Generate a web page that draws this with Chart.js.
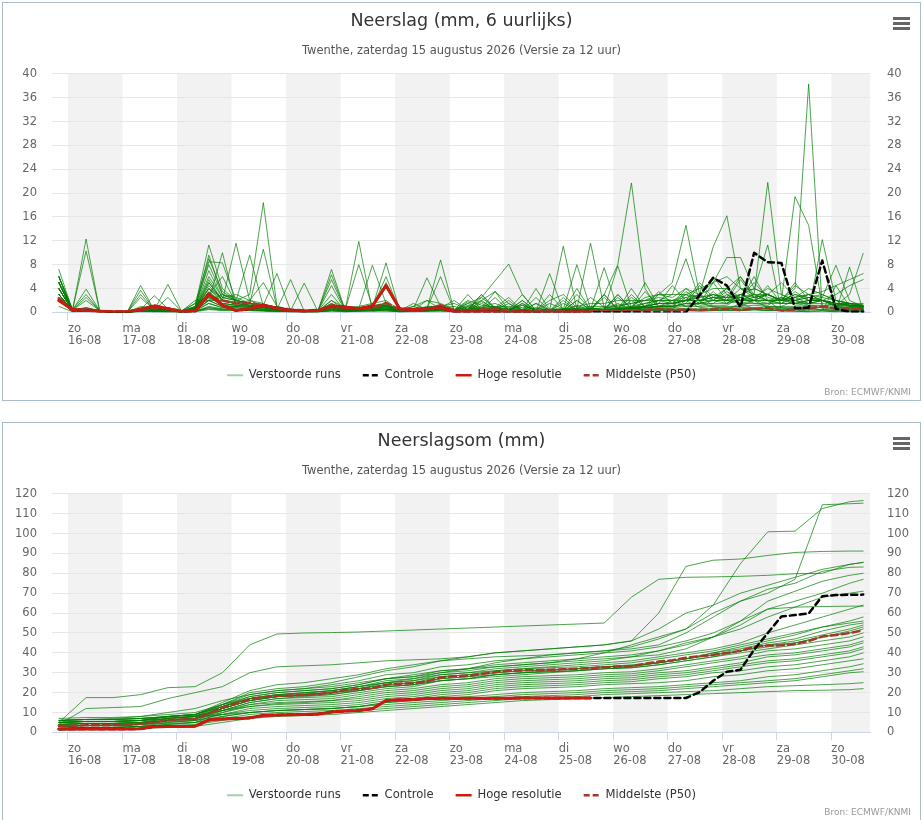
<!DOCTYPE html>
<html lang="nl">
<head>
<meta charset="utf-8">
<title>Neerslag Twenthe</title>
<script src="https://cdn.jsdelivr.net/npm/chart.js@4.4.1/dist/chart.umd.min.js"></script>
<style>
    body { margin: 0; background: #fff; }
    .box { position: absolute; left: 2px; width: 917px; height: 397px; border: 1px solid #aabdcc; background: #fff; }
    #box1 { top: 2px; }
    #box2 { top: 422px; }
    canvas { display: block; }
</style>
</head>
<body>
<div class="box" id="box1"><canvas id="rainChart" width="917" height="397"></canvas></div>
<div class="box" id="box2"><canvas id="sumChart" width="917" height="397"></canvas></div>
<script>
/* ==========================================
   Data (uren vanaf zo 16-08 00:00)
   ========================================== */

const hours = [-4, 2, 8, 14, 20, 26, 32, 38, 44, 50, 56, 62, 68, 74, 80, 86, 92, 98, 104, 110,
    116, 122, 128, 134, 140, 146, 152, 158, 164, 170, 176, 182, 188, 194, 200, 206, 212, 218, 224, 230,
    236, 242, 248, 254, 260, 266, 272, 278, 284, 290, 296, 302, 308, 314, 320, 326, 332, 338, 344, 350];

const sumHours = [-4, 8, 20, 32, 44, 56, 68, 80, 92, 104, 116, 128, 140, 152, 164, 176, 188, 200, 212, 224,
    236, 248, 260, 272, 284, 296, 308, 320, 332, 344, 350];

const dayNames = ["zo", "ma", "di", "wo", "do", "vr", "za", "zo", "ma", "di", "wo", "do", "vr", "za", "zo"];
const dayDates = ["16-08", "17-08", "18-08", "19-08", "20-08", "21-08", "22-08", "23-08",
    "24-08", "25-08", "26-08", "27-08", "28-08", "29-08", "30-08"];

const subtitleText = "Twenthe, zaterdag 15 augustus 2026 (Versie za 12 uur)";

// neerslag per 6 uur
const hiresRain = [2.0, .5, .3, .2, .1, .1, .5, 1.1, .6, .1, .2, 3.1, 1.2, .3, .6, 1.2, .7, .3, .2, .3,
    1.1, .9, .6, 1.1, 4.5, .6, .5, .6, .8, .1, .1, .1, .1, 0, .1, 0, 0, 0, .1, 0];

const controlRain = [2.0, .5, .3, .2, .1, .1, .5, 1.1, .6, .1, .2, 3.1, 1.2, .3, .6, 1.2, .7, .3, .2, .3,
    1.1, .9, .6, 1.1, 4.5, .6, .5, .6, .8, .1, .1, .1, .1, 0, .1, 0, 0, 0, .1, 0,
    0, 0, 0, 0, 0, 0, 0, 2.9, 5.8, 4.5, .9, 10.0, 8.4, 8.3, .7, .8, 8.7, .6, .1, .1];

const medianRain = [2.4, .3, .6, .1, 0, .1, .4, .8, .7, .2, .3, 2.8, 2.0, 1.5, 1.6, 1.2, .8, .5, .3, .4,
    .9, .8, .6, .7, 1.6, .5, .3, .6, 1.2, .4, .3, .5, .6, .3, .3, .2, .3, .2, .2, .3,
    .3, .2, .3, .4, .6, .4, .5, .4, .5, .6, .4, .6, .7, .3, .5, .7, 1.0, .6, .5, .6];

const memberRain = [
    [5, .3,12.3,.2,0, 0,1,.8,.5, .2,.6,5,2, 11.6,2,5,1, .5,.3,.2,.5, .3,.5,.4,.6, .2,.3,.5,.8, .2,.3,.5,.6, .4,.3,.2,.5, .3,.4,.6,3, 8,21.7,4,.5, .2,.3,.2,.3, .4,.3,.5,.3, .4,.6,1,.3, 4.5,1,.8],
    [4, .4,10.3,.3,0, 0,.5,.4,.3, .1,1.5,2,3, 2,9.6,1,.5, .2,.2,.1,.3, .4,11.9,.2,.5, .2,.3,.2,.5, .3,.4,.5,.6, .3,.2,.3,.5, .2,.4,.3,.5, .5,.7,.8,3, 5,14.6,3,1, .5,1.5,.6,1, .8,.5,.2,.3, .1,.1,.1],
    [6, .5,.6,.3,0, 0,.7,.5,.8, .2,2,2,2, 1.5,1,1,.5, .5,.3,.2,1, .5,.5,.6,1, .3,.4,.5,1, .3,.5,.5,.6, .8,.5,.3,.5, .6,1,1.5,1.5, 2,2,2,2, 2,2,3,11, 16.2,4,3.8,11.3, .2,.2,.1,12.2, 2,1.5,.6],
    [3, .3,.5,.2,0, 0,.4,.3,.3, .1,.5,2,10, 1,1.5,1,.5, .3,.2,.2,.5, .3,.6,.8,1, .4,.5,.6,1.2, .3,.5,.8,1, 1,.8,.6,.5, .4,.3,.5,.5, .5,.8,1.5,2, 2,3,2.5,3, 2,1.5,2,3, 2,4,38.3,.5, .2,.2,.1],
    [4, .3,.5,.2,0, 0,4.5,.4,.4, .2,.8,4,2.5, 3,2,1.5,.5, .3,.3,.2,2, .8,1,1.5,2, .4,1,2,1.5, .5,.8,1,1.5, .6,.5,.3,.4, .5,.6,.8,.5, .6,1,2.5,3, 3,9,2,2, 4,2,3,3, 2,3,2,2, 1.2,3,9.9],
    [5, .4,3.9,.3,0, 0,.6,.5,.5, .2,1,11.3,4, 2,3,18.4,1, .4,.3,.3,1.5, .5,.8,1,1.2, .3,.4,1,1, .3,.4,.6,.8, .4,.3,.3,.4, .5,.6,.5,.4, .6,.8,1,2, 3,3,4,5, 9.2,9.2,4,3, 2,2.5,3,3.5, 4.5,5.5,6.5],
    [3, .3,.8,.2,0, 0,.5,2.8,.6, .2,.7,9.6,3, 2.5,1.5,1,.5, .3,.3,.2,.8, .4,.6,1,1.5, .3,.5,.8,1, .3,.4,.6,.5, .3,.2,.3,.3, .4,.3,.4,.5, .5,.6,.8,1, 1.5,2,3,4, 4,6,3,21.8, 3,2,1.5,2, 1,.8,.6],
    [6, .5,3,.3,0, 0,.8,.6,.5, .3,1.5,9,3.5, 2,1.5,10.6,.8, .5,.4,.3,1, .5,.8,1.2,1.5, .4,.6,.8,1.2, .4,.6,.8,1, .5,.4,.3,.5, .6,.5,.6,.8, .8,1,1.5,2, 1.5,2,2.5,6, 3,2,2.5,3, 2,19.4,14.6,1, 1.5,1.2,1],
    [5, .4,.8,.3,0, 0,.5,.6,.8, .2,1,3,6, 1.5,2,1,.8, .4,.3,.3,.8, .5,.6,1,1.5, .3,.6,.8,1, .4,1.5,2.5,.8, .5,1.2,.4,2, 3,.8,1,1, 1.2,1.5,2,2.5, 2,2.5,3,2, 2,3,2.5,4, 3,2,2.5,2, 1,.6,.5],
    [4, .3,.6,.2,0, 0,3.7,.4,.5, .2,.8,8.5,8.3, 2,1.5,1,.5, .3,.2,.2,.8, .4,.6,7.9,1.5, .3,.5,.6,1.2, .3,1,2,3.5, 1.5,.3,.8,.4, .5,.6,11.6,.8, .6,2.5,1,1.5, 1.5,4,2,3, 2.5,3,4,3, 2,1.5,2,2.5, 7.9,2,1],
    [5, .4,2.5,.3,0, 0,.6,.5,.5, .2,.9,8,3, 2,1.5,1.2,6.5, .3,.2,.3,.9, .5,.7,1,1.3, .3,.5,5.8,1, .4,2,1.2,.8, .5,3,.3,1.5, .6,.5,2.5,.9, 1,1.5,2,3, 2.5,4,3,5, 6,4,3,2, .3,.2,.1,.2, .1,7.6,.3],
    [3, .3,.5,.2,0, 0,.5,.4,4.7, .2,.6,7,2.5, 2,1.5,1,.5, .3,.2,.2,7.2, .4,.5,.8,1.2, .3,.5,.6,1, .4,.5,3,.8, 2.5,.3,1.5,.4, 11.1,.5,.6,.5, .5,.6,.8,1, 1.2,3.5,2,2.5, 4,2.5,5,2.5, 2,3,2.5,3, 2,1.5,1.2],
    [6, .4,.5,.3,0, 0,3,.4,.5, .2,.7,6,2.5, 2,1.5,1,.5, .3,.3,.2,.9, .4,8,1,1.2, .3,.4,.6,1, 1.5,.5,.6,3.5, .4,2,.3,.4, .5,8,.6,.5, .6,.8,1,1.5, 1.5,2,5,2.5, 2.5,2.5,3,2, 2,4.5,3,2, 1.5,1,.8],
    [2, .3,.5,.2,0, 0,.4,.4,2.5, .2,.6,5.5,2, 1.8,1.2,1,.5, 5.5,.2,.2,.8, .4,.6,.8,8.3, .3,.5,.6,1, .3,3,.5,.6, .4,.3,4,.4, .5,.4,.6,.5, 2.5,.8,1,3.5, 1.5,2,2.5,3, 2.5,6,2.5,3, 2,2.5,4,3, 2,1.5,1],
    [4, .3,.5,.2,0, 0,2.5,.4,.4, .2,.5,5,2, 1.5,1.2,1,.5, .3,4.9,.2,.8, .4,.5,.8,6, .3,.5,.6,1, .3,.4,1.8,.6, 2,.3,.2,3, .5,.4,.5,7.5, .6,.8,1,1.5, 4.5,2,2,2.5, 2,2.5,2,3, 5,2.5,3,2.5, 2,1.5,1.5],
    [5, .4,2,.3,0, 0,.5,.4,.4, .2,.5,4,2, 1.5,1.2,.8,.5, .3,.2,.2,6.3, .4,.5,.8,1, .3,.4,.6,.8, 2,.4,.5,.6, .3,1.5,.2,.4, .4,3,.5,.5, 7.8,.8,1,1.5, 1.5,2,2,2.5, 2,5.5,2.5,3, 2,2,2.5,2, 3,4.5,5.5],
    [3, .3,.5,.2,0, 0,.4,.4,.4, .2,.6,4.5,2, 1.5,1.2,.8,.5, .3,.2,.2,5.5, .4,.5,.8,1, .3,.4,.6,8.8, .3,.4,3,.5, .3,.3,2.5,.3, .3,4,.4,.5, .5,.6,.8,1, 1,3,1.5,5, 2,2,6,2, 2.5,2,3,2, 1.5,1.5,1.2],
    [7.2, .4,.6,.3,0, 0,.5,.4,.5, .2,.5,3.5,1.5, 1.2,1,.8,.5, .3,.2,.2,4.5, .3,.5,.7,1, .3,.4,.6,6, .3,1.8,.5,.5, .3,2,.2,.3, 2.5,.4,.4,3, .5,4,.8,1, 1,1.5,1.5,2, 1.5,2,2,2, 2,5,2,2, 1.5,1.5,1.2],
    [2, .2,.4,.2,0, 0,.3,.3,.3, .1,.4,4,1.5, 1.2,1,.8,.4, .3,.2,.2,.8, .3,.5,.6,5, .3,.4,.5,.8, 1,.4,.5,2.5, .3,.3,1.5,.3, .3,.4,.4,.5, 3,.6,.8,1, 1,1.5,4.5,2, 2,4,2.5,2, 1.5,1.5,2,2, 1.5,1.2,1],
    [5, .3,.5,.2,0, 0,.4,.3,.3, .1,.4,2.5,1.5, 1.2,1,.8,.4, .3,.2,.2,3, .3,.5,.6,1, .3,.4,.5,.8, .3,1.5,.5,.5, .3,.3,.2,6.5, .3,2,.4,3, .5,.6,5,1, 1,1.5,1.5,2, 3.5,2,2,2, 1.5,3.5,2,2, 1.5,1.2,1],
    [4, .3,.5,.2,0, 0,.4,.3,.3, .1,.4,2.5,1.2, 1,.8,.6,.4, .3,.2,.2,2, .3,.4,.6,.8, .3,.4,.5,.6, .3,.5,2.5,5.3, 8.1,3,.3,.2, .3,.4,.4,.5, .5,3,.8,1, 1,1.2,1.5,1.5, 1.5,3,2,4.5, 1.5,1.5,2,2, 1.5,1.2,1],
    [6, .4,.5,.3,0, 0,.4,.3,.3, .1,.3,2,1, 1,.8,.6,.4, .3,.2,.2,1.5, .3,.4,.5,.8, .3,1.5,.5,.6, .3,.4,2,.5, .3,1.2,.2,.3, 1.5,.4,.4,2.5, .5,.6,3.5,1, 2,1,1.5,3.5, 1.5,3,2,1.5, 2.5,1.5,1.5,2, 1.5,1.2,1],
    [3, .3,.4,.2,0, 0,.3,.3,.3, .1,.3,2,1, 1,.8,.5,.3, .2,.2,.2,1.2, .3,.4,.5,.7, .3,.4,2,.6, .3,1.2,.4,.5, 1.5,.3,.2,.3, .3,2,.4,.4, 3,.6,.8,1, 1,2.5,1.2,1.5, 3,1.5,1.5,1.5, 1.5,2.5,1.5,2, 1.2,1.2,1],
    [5, .3,.4,.2,0, 0,.3,.3,.2, .1,.3,1.5,.8, .8,.6,.5,.3, .2,.2,.2,1, .3,.3,.5,.6, .2,.3,.4,.5, .2,.3,1.5,.4, .3,.2,.2,.3, 2,.3,.3,.4, .4,2,.6,.8, .8,1,1,1.2, 1.2,2.5,1.5,1.2, 2.5,1.2,1.5,1.5, 1.2,1,1],
    [2, .2,.3,.2,0, 0,.3,.2,.2, .1,.3,1.5,.8, .8,.5,.4,.3, .2,.2,.2,.8, .2,.3,.4,.6, .2,1,.4,.5, .2,.3,.3,.4, .3,1.5,.2,.3, .3,.3,.3,.4, 1.5,.4,.5,.6, .6,2,.8,1, 1,1,1.2,1, 1,2,1.2,1.2, 1,.8,.8],
    [4, .3,.3,.2,0, 0,.2,.2,.2, .1,.2,1,.6, .6,.5,.4,.2, .2,.1,.1,.6, .2,.3,.4,.5, .2,.3,.3,.4, .2,1,.3,.3, .2,.2,.2,.2, .2,1.2,.3,.3, .3,.4,.5,.6, .6,.6,1.8,.8, .8,1,2,.8, 1,1,1.2,1, .8,.8,.6],
    [6, .3,.3,.2,0, 0,.2,.2,.2, .1,.2,.8,.5, .5,.4,.3,.2, .2,.1,.1,.5, .2,.3,.3,.4, .2,.2,.3,.4, .2,.2,.3,.3, .2,.2,.2,.2, .2,.2,.3,.3, .3,.3,.4,.5, .5,.5,.6,.6, .6,.8,.8,.6, .8,.8,1,.8, .6,.6,.5],
    [3, .2,.3,.1,0, 0,.2,.2,.1, .1,.2,.8,.5, .5,.4,.3,.2, .1,.1,.1,.4, .2,.2,.3,.4, .1,.2,.3,.3, .2,.2,.2,.3, .2,.1,.1,.2, .2,.2,.2,.3, .3,.3,.4,.4, .4,.5,.5,.6, .6,.6,.7,.6, .6,.8,.8,.8, .6,.5,.5],
    [2, .2,.2,.1,0, 0,.2,.1,.1, .1,.2,.6,.4, .4,.3,.3,.2, .1,.1,.1,.3, .1,.2,.3,.3, .1,.2,.2,.3, .1,.2,.2,.2, .1,.1,.1,.2, .2,.2,.2,.2, .2,.3,.3,.3, .3,.4,.4,.4, .4,.5,.5,.4, .4,.5,.5,.5, .4,.4,.3],
    [1, .1,.2,.1,0, 0,.1,.1,.1, 0,.1,.5,.3, .3,.3,.2,.1, .1,.1,.1,.2, .1,.2,.2,.2, .1,.1,.2,.2, .1,.1,.2,.2, .1,.1,.1,.1, .1,.1,.2,.2, .2,.2,.2,.3, .3,.3,.3,.3, .3,.3,.4,.3, .3,.4,.4,.4, .3,.3,.3]
];

// neerslagsom
const hiresSum = [1.7, 1.7, 1.7, 1.7, 1.7, 1.7, 1.8, 2.9, 3.0, 3.0, 3.1, 6.2, 6.8, 7.0, 7.3, 8.5, 8.8, 8.9, 9.0, 9.2,
    10.3, 10.7, 11.0, 11.9, 16.0, 16.4, 16.6, 17.0, 17.2, 17.2, 17.2, 17.2, 17.2, 17.2, 17.3, 17.3, 17.3, 17.3, 17.3, 17.3];

const controlSum = [1.7, 1.7, 1.7, 1.7, 1.7, 1.7, 1.8, 2.9, 3.0, 3.0, 3.1, 6.2, 6.8, 7.0, 7.3, 8.5, 8.8, 8.9, 9.0, 9.2,
    10.3, 10.7, 11.0, 11.9, 16.0, 16.4, 16.6, 17.0, 17.2, 17.2, 17.2, 17.2, 17.2, 17.2, 17.3, 17.3, 17.3, 17.3, 17.3, 17.3,
    17.3, 17.3, 17.3, 17.3, 17.3, 17.3, 17.3, 20.2, 26.0, 30.5, 31.5, 41.6, 50.0, 58.3, 59.0, 59.8, 68.5, 69.1, 69.2, 69.3];

const medianSum = [3.4, 3.4, 3.6, 3.6, 3.6, 3.8, 4.3, 5.0, 6.2, 6.5, 6.8, 9.5, 12.5, 14.5, 16.8, 17.8, 18.3, 18.5, 18.8, 19.3,
    20.0, 21.3, 21.8, 22.2, 24.0, 24.5, 24.8, 25.6, 27.6, 28.3, 28.5, 29.4, 30.3, 31.0, 31.2, 31.3, 31.5, 31.7, 32.0, 32.4,
    32.8, 33.1, 33.3, 34.5, 35.6, 36.3, 37.6, 38.3, 39.0, 40.0, 41.0, 43.0, 43.7, 43.8, 44.5, 46.0, 48.2, 49.0, 50.0, 51.3];

const memberSum = [
    [5, 17.5, 17.5, 19, 22.5, 23, 30, 44, 49.5, 50, 50.2, 50.5, 51, 51.5, 52, 52.5, 53, 53.5, 54, 54.5, 55, 68, 77, 78, 78.2, 78.5, 79, 79.8, 80, 84.5, 85.5],
    [4, 12, 12.5, 13, 17, 20, 23, 30, 33, 33.5, 34, 35, 36, 36.5, 37, 38, 40, 41, 42, 43, 44, 46, 60, 83.5, 86.6, 87.2, 89, 90.5, 91, 91.2, 91.2],
    [6, 6.5, 7, 8, 10, 12, 16, 19, 21, 22, 23, 25, 27, 28, 30, 31, 33, 34, 35, 37, 40, 44, 48, 52, 64, 84.9, 100.9, 101.2, 112.6, 116, 116.6],
    [3, 3.5, 4, 4.5, 6, 7, 12, 16, 18, 19, 20, 22, 25, 27, 30, 32, 35, 37, 39, 40, 41, 43, 47, 52, 60, 66, 70, 77, 114.5, 115, 115.3],
    [4, 4.5, 4.5, 5, 7, 8, 14, 20, 22, 23, 25, 28, 31, 33, 36, 38, 40, 41, 42, 43, 44, 46, 52, 60, 64, 70, 74, 78, 82, 84.5, 85.5],
    [5, 5.5, 5.5, 6, 8, 9, 15, 21, 24, 25, 27, 29, 32, 34, 36, 37, 38, 38.5, 39, 40, 41, 42, 44, 50, 58, 66, 72, 75, 81, 83, 83.2],
    [3, 3.5, 3.5, 4, 6, 7, 13, 18, 20, 21, 22, 24, 27, 29, 31, 32, 33, 34, 35, 36, 37, 38, 39, 42, 48, 56, 66, 71, 76, 79, 80],
    [6, 6.5, 6.5, 7, 8, 9, 14, 19, 21, 22, 24, 26, 29, 30, 33, 34, 36, 37, 38, 39, 40, 41, 43, 46, 50, 56, 62, 66, 70, 75, 77],
    [5, 5.5, 5.5, 6, 8, 9, 13, 17, 19, 20, 21, 23, 26, 27, 29, 30, 32, 33, 34, 35, 36, 38, 41, 45, 48, 52, 58, 63, 68, 70, 71],
    [4, 4.5, 4.5, 5, 7, 8, 13, 17, 19, 19.5, 21, 23, 25, 26, 29, 30, 31, 32, 33, 34, 35, 36, 38, 40, 42, 45, 50, 54, 58, 62, 64],
    [5, 5.5, 5.5, 6, 8, 9, 14, 18, 20, 21, 22, 24, 27, 28, 31, 32, 34, 35, 36, 37, 38, 39, 41, 44, 48, 54, 62, 63, 63.3, 63.5, 63.5],
    [3, 3.5, 3.5, 4, 6, 7, 12, 16, 18, 18.5, 20, 22, 24, 25, 28, 29, 30, 31, 31.5, 32, 33, 34, 35, 37, 40, 43, 46, 49, 53, 56, 58],
    [6, 6.5, 6.5, 7, 8, 9, 13, 17, 19, 20, 21, 23, 25, 26, 28, 29, 31, 32, 32.5, 33, 34, 35, 37, 39, 41, 44, 47, 50, 53, 55, 56],
    [2, 2.5, 2.5, 3, 5, 6, 11, 15, 17, 18, 19, 21, 23, 24, 27, 28, 29, 30, 31, 32, 33, 33.5, 35, 37, 40, 42, 45, 47, 51, 54, 55],
    [4, 4.5, 4.5, 5, 6, 7, 11, 15, 17, 17.5, 18, 20, 22, 23, 26, 27, 28, 29, 30, 31, 32, 32.5, 34, 36, 38, 41, 44, 46, 49, 52, 54],
    [5, 5.5, 5.5, 6, 7, 8, 12, 16, 18, 18.5, 19, 21, 23, 24, 26, 27, 29, 30, 30.5, 31, 32, 33, 35, 37, 39, 41, 44, 45, 48, 51, 53],
    [3, 3.5, 3.5, 4, 6, 7, 12, 16, 18, 19, 20, 22, 24, 25, 27, 28, 30, 31, 31.5, 32, 33, 33.5, 35, 37, 39, 41, 43, 45, 48, 50, 52],
    [7, 7.5, 7.5, 8, 9, 10, 14, 17, 18.5, 19, 20, 21, 23, 24, 26, 27, 29, 30, 30.5, 31, 32, 32.5, 34, 36, 38, 40, 42, 44, 46, 48, 50],
    [2, 2.5, 2.5, 3, 4, 5, 10, 14, 16, 16.5, 17, 19, 21, 22, 24, 25, 27, 28, 28.5, 29, 30, 30.5, 32, 34, 36, 38, 41, 42, 44, 46, 48],
    [5, 5.5, 5.5, 6, 7, 8, 11, 14, 15, 15.5, 16, 18, 20, 21, 23, 24, 26, 27, 27.5, 28, 29, 29.5, 31, 33, 35, 37, 39, 40, 42, 44, 46],
    [4, 4.5, 4.5, 5, 6, 7, 10, 13, 14.5, 15, 16, 17, 19, 20, 22, 23, 25, 26, 26.5, 27, 28, 28.5, 30, 31, 33, 35, 38, 39, 41, 43, 45],
    [6, 6.5, 6.5, 7, 8, 8.5, 11, 13, 14, 14.5, 15, 16, 18, 19, 21, 22, 24, 25, 25.5, 26, 27, 27.5, 29, 30, 32, 34, 36, 37, 39, 41, 43],
    [3, 3.5, 3.5, 4, 5, 6, 9, 12, 13, 13.5, 14, 15, 17, 18, 20, 21, 23, 24, 24.5, 25, 26, 26.5, 28, 29, 31, 33, 35, 36, 38, 40, 42],
    [5, 5.5, 5.5, 6, 6.5, 7, 9, 11, 12, 12.5, 13, 14, 16, 17, 19, 20, 22, 23, 23.5, 24, 25, 25.5, 27, 28, 30, 31, 33, 34, 36, 38, 40],
    [2, 2.5, 2.5, 3, 4, 5, 8, 10, 11, 11.5, 12, 13, 15, 16, 18, 19, 21, 22, 22.5, 23, 24, 24.5, 25, 26, 28, 29, 31, 32, 34, 36, 37],
    [4, 4.5, 4.5, 5, 5.5, 6, 8, 10, 11, 11.5, 12, 13, 15, 16, 17, 18, 19, 20, 20.5, 21, 22, 22.5, 23, 24, 25, 26, 28, 29, 31, 33, 34.5],
    [6, 6.5, 6.5, 7, 7.5, 8, 9, 10, 11, 11.5, 12, 13, 14, 15, 16, 17, 18, 19, 19.5, 20, 21, 21.5, 22, 23, 24, 25, 26, 27, 29, 31, 32],
    [3, 3.5, 3.5, 4, 4.5, 5, 7, 9, 10, 10.5, 11, 12, 13, 14, 15, 16, 17, 18, 18.5, 19, 20, 20.5, 21, 22, 23, 24, 25, 26, 28, 30, 30.5],
    [2, 2.5, 2.5, 3, 3.5, 4, 6, 8, 9, 9.5, 10, 11, 12, 13, 14, 15, 16, 17, 17.5, 18, 19, 19.5, 20, 20.5, 21, 22, 23, 23.5, 24, 24.5, 25],
    [1, 1.5, 1.5, 2, 2.5, 3, 5, 7, 8, 8.5, 9, 10, 11, 12, 13, 14, 15, 16, 16.5, 17, 17.5, 18, 18.5, 19, 19.5, 20, 20.5, 21, 21.2, 21.5, 22]
];


/* ==========================================
   Opmaak
   ========================================== */

Chart.defaults.font.family = "'DejaVu Sans', sans-serif";

const GREEN = "rgba(0,125,0,0.7)";
const RED = "#cc1a10";
const BROWN = "#a3382c";

const legendItems = [
    { text: "Verstoorde runs", strokeStyle: "rgba(60,150,60,0.45)", lineWidth: 2, lineDash: [] },
    { text: "Controle", strokeStyle: "#000", lineWidth: 2.5, lineDash: [6, 3] },
    { text: "Hoge resolutie", strokeStyle: RED, lineWidth: 2.5, lineDash: [] },
    { text: "Middelste (P50)", strokeStyle: BROWN, lineWidth: 2.5, lineDash: [6, 3] }
];

// dagbanden, menu-icoon en bron
const decorPlugin = {
    id: "decor",
    beforeDraw(chart) {
        const { ctx, chartArea: a, scales: { x } } = chart;
        ctx.save();
        ctx.fillStyle = "#f2f2f2";
        dayNames.forEach((d, i) => {
            if (i % 2) return;
            const x0 = Math.max(x.getPixelForValue(i * 24), a.left);
            const x1 = Math.min(x.getPixelForValue(i * 24 + 24), a.right);
            ctx.fillRect(x0, a.top, x1 - x0, a.bottom - a.top);
        });
        ctx.restore();
    },
    afterDraw(chart) {
        const { ctx, width, height } = chart;
        ctx.save();
        ctx.fillStyle = "#666";
        for (let i = 0; i < 3; i++) {
            ctx.fillRect(width - 27, 14 + i * 5, 17, 3);
        }
        ctx.font = "9px 'DejaVu Sans'";
        ctx.fillStyle = "#999";
        ctx.textAlign = "right";
        ctx.textBaseline = "middle";
        ctx.fillText("Bron: ECMWF/KNMI", width - 9, height - 7);
        ctx.restore();
    }
};

function series(xs, ys) {
    return ys.map((v, i) => ({ x: xs[i], y: v }));
}

function buildDatasets(hires, control, median, members, memberHours) {
    const sets = [
        { label: "Hoge resolutie", data: series(hours, hires), borderColor: RED, borderWidth: 3 },
        { label: "Controle", data: series(hours, control), borderColor: "#000", borderWidth: 2.5, borderDash: [6, 4] },
        { label: "Middelste (P50)", data: series(hours, median), borderColor: BROWN, borderWidth: 2.5, borderDash: [7, 4] }
    ];
    members.forEach(m => {
        sets.push({ label: "Verstoorde runs", data: series(memberHours, m), borderColor: GREEN, borderWidth: 1 });
    });
    return sets;
}

function makeChart(id, title, yMax, yStep, datasets) {
    const yTicks = { color: "#666", font: { size: 11.5 }, stepSize: yStep };

    return new Chart(document.getElementById(id), {
        type: "line",
        data: { datasets: datasets },
        plugins: [decorPlugin],
        options: {
            responsive: false,
            animation: false,
            events: [],
            layout: { padding: { bottom: 9 } },
            elements: {
                point: { radius: 0 },
                line: { tension: 0, borderCapStyle: "round", borderJoinStyle: "round" }
            },
            plugins: {
                title: {
                    display: true, text: title, color: "#333",
                    font: { size: 17.5, weight: "normal" },
                    padding: { top: 8, bottom: 6 }
                },
                subtitle: {
                    display: true, text: subtitleText, color: "#555",
                    font: { size: 11.5 },
                    padding: { top: 6, bottom: 16 }
                },
                legend: {
                    position: "bottom",
                    onClick: null,
                    labels: {
                        usePointStyle: true,
                        pointStyleWidth: 16,
                        padding: 22,
                        color: "#333",
                        font: { size: 11.6 },
                        generateLabels: () => legendItems.map((it, i) => ({
                            text: it.text,
                            strokeStyle: it.strokeStyle,
                            fillStyle: it.strokeStyle,
                            lineWidth: it.lineWidth,
                            lineDash: it.lineDash,
                            pointStyle: "line",
                            fontColor: "#333",
                            hidden: false,
                            datasetIndex: i
                        }))
                    }
                },
                tooltip: { enabled: false }
            },
            scales: {
                x: {
                    type: "linear",
                    min: -7,
                    max: 353,
                    afterBuildTicks: s => { s.ticks = dayNames.map((d, i) => ({ value: i * 24 })); },
                    afterFit: s => { s.height = 35; },
                    grid: { drawOnChartArea: false, drawTicks: true, tickLength: 8, color: "#ccd6eb" },
                    border: { color: "#ccd6eb" },
                    ticks: {
                        align: "start",
                        autoSkip: false,
                        maxRotation: 0,
                        padding: 2,
                        color: "#666",
                        font: { size: 11.5, lineHeight: 1.1 },
                        callback: v => [dayNames[v / 24], dayDates[v / 24]]
                    }
                },
                y: {
                    position: "left",
                    min: 0,
                    max: yMax,
                    afterFit: s => { s.width = 49; },
                    grid: { color: "#e6e6e6", drawTicks: false },
                    border: { display: false },
                    ticks: Object.assign({ padding: 15 }, yTicks)
                },
                y2: {
                    position: "right",
                    min: 0,
                    max: yMax,
                    afterFit: s => { s.width = 50; },
                    grid: { display: false, drawTicks: false },
                    border: { display: false },
                    ticks: Object.assign({ padding: 17 }, yTicks)
                }
            }
        }
    });
}


/* ==========================================
   Grafieken
   ========================================== */

makeChart("rainChart", "Neerslag (mm, 6 uurlijks)", 40, 4,
    buildDatasets(hiresRain, controlRain, medianRain, memberRain, hours));

makeChart("sumChart", "Neerslagsom (mm)", 120, 10,
    buildDatasets(hiresSum, controlSum, medianSum, memberSum, sumHours));
</script>
</body>
</html>
